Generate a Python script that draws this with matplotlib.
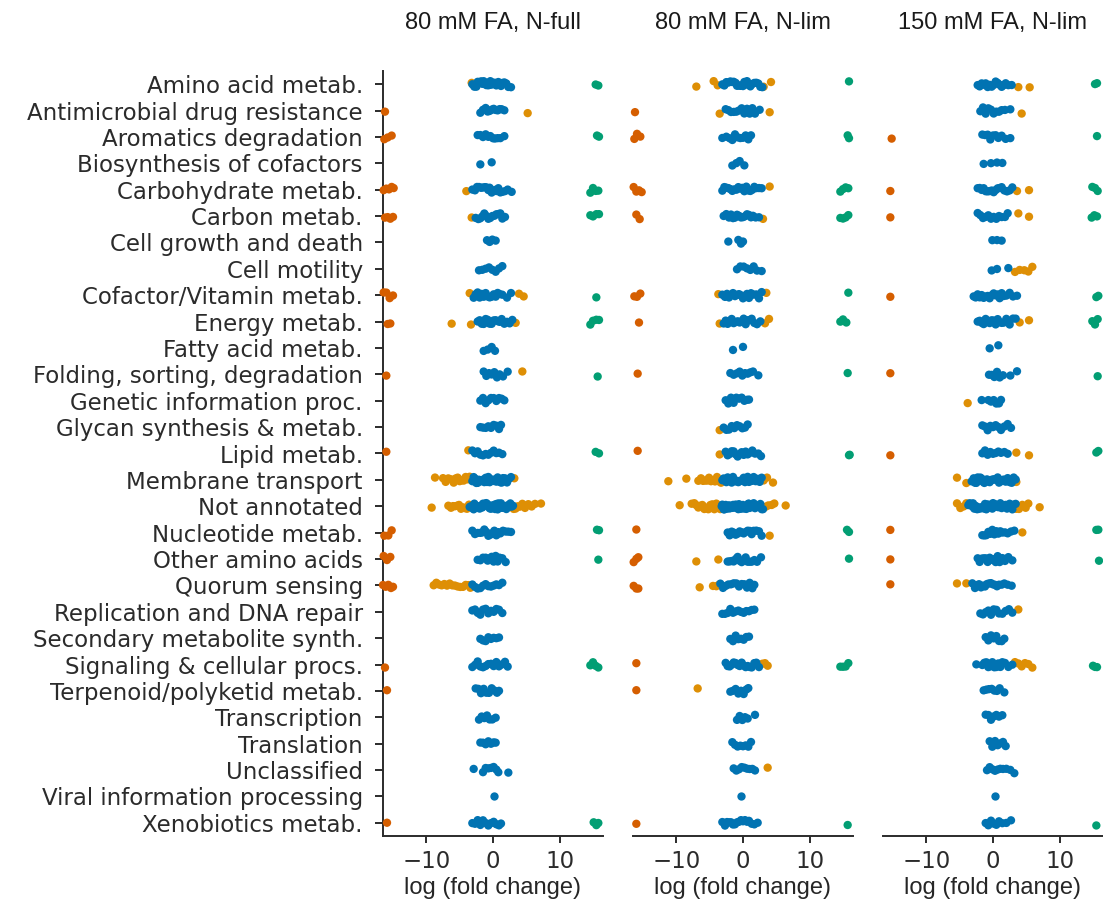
import numpy as np
import pandas as pd
import seaborn as sns
import matplotlib.pyplot as plt

PATHWAYS = [
    'Amino acid metab.', 'Antimicrobial drug resistance', 'Aromatics degradation',
    'Biosynthesis of cofactors', 'Carbohydrate metab.', 'Carbon metab.',
    'Cell growth and death', 'Cell motility', 'Cofactor/Vitamin metab.',
    'Energy metab.', 'Fatty acid metab.', 'Folding, sorting, degradation',
    'Genetic information proc.', 'Glycan synthesis & metab.', 'Lipid metab.',
    'Membrane transport', 'Not annotated', 'Nucleotide metab.',
    'Other amino acids', 'Quorum sensing', 'Replication and DNA repair',
    'Secondary metabolite synth.', 'Signaling & cellular procs.',
    'Terpenoid/polyketid metab.', 'Transcription', 'Translation',
    'Unclassified', 'Viral information processing', 'Xenobiotics metab.',
]
CONDITIONS = ['80 mM FA, N-full', '80 mM FA, N-lim', '150 mM FA, N-lim']

# --- 80 mM FA, N-full -------------------------------------------------------
# not significant
ns_full80 = [
    [-3.1, -2.8, -2.5, -2.3, -2.0, -1.8, -1.6, -1.4, -1.2, -1.0, -0.9, -0.7, -0.5, -0.4, -0.2, 0.0, 0.1, 0.3, 0.5, 0.6, 0.8, 1.0, 1.2, 1.4, 1.7, 2.0, 2.3, 2.7],
    [-1.9, -1.5, -1.1, -0.8, -0.5, -0.2, 0.1, 0.4, 0.7, 1.0, 1.3, 1.7],
    [-2.3, -1.9, -1.5, -1.1, -0.7, -0.4, 0.0, 0.3, 0.7, 1.1, 1.7],
    [-1.9, -0.2],
    [-3.1, -2.7, -2.4, -2.1, -1.8, -1.5, -1.2, -1.0, -0.7, -0.5, -0.2, 0.0, 0.3, 0.5, 0.8, 1.1, 1.4, 1.8, 2.2, 2.8],
    [-2.6, -2.2, -1.9, -1.6, -1.3, -1.0, -0.7, -0.4, -0.1, 0.2, 0.5, 0.8, 1.1, 1.4, 1.8],
    [-0.9, -0.5, -0.1, 0.4],
    [-2.1, -1.6, -1.1, -0.6, -0.1, 0.4, 0.9, 1.4],
    [-2.9, -2.6, -2.3, -2.0, -1.7, -1.4, -1.1, -0.8, -0.5, -0.2, 0.1, 0.4, 0.7, 1.0, 1.4, 2.1, 2.7],
    [-2.3, -2.0, -1.7, -1.4, -1.1, -0.8, -0.5, -0.2, 0.1, 0.4, 0.7, 1.0, 1.3, 1.7, 2.1, 2.5, 2.9],
    [-1.4, -0.8, -0.2, 0.3],
    [-1.4, -1.0, -0.6, -0.2, 0.2, 0.6, 1.0, 1.5, 2.2],
    [-1.9, -1.5, -1.1, -0.7, -0.3, 0.1, 0.5, 0.9, 1.3, 1.7],
    [-1.9, -1.5, -1.1, -0.7, -0.3, 0.1, 0.5, 0.9, 1.2],
    [-3.1, -2.7, -2.3, -1.9, -1.5, -1.1, -0.7, -0.3, 0.1, 0.5, 0.9, 1.4],
    [-3.1, -2.9, -2.7, -2.5, -2.3, -2.1, -1.9, -1.7, -1.5, -1.3, -1.1, -0.9, -0.7, -0.5, -0.3, -0.1, 0.1, 0.3, 0.5, 0.7, 0.9, 1.1, 1.3, 1.5, 1.8, 2.1, 2.4, 2.7],
    [-3.5, -3.3, -3.2, -3.0, -2.9, -2.8, -2.6, -2.5, -2.4, -2.2, -2.1, -2.0, -1.9, -1.7, -1.6, -1.5, -1.4, -1.2, -1.1, -1.0, -0.9, -0.8, -0.7, -0.6, -0.5, -0.4, -0.3, -0.2, -0.1, 0.0, 0.1, 0.2, 0.3, 0.4, 0.5, 0.6, 0.7, 0.8, 1.0, 1.1, 1.2, 1.4, 1.5, 1.7, 1.8, 2.0, 2.2, 2.4, 2.6, 2.8, 3.0],
    [-3.1, -2.7, -2.3, -1.9, -1.6, -1.3, -1.0, -0.7, -0.4, -0.1, 0.2, 0.5, 0.8, 1.1, 1.5, 1.9, 2.3, 2.7],
    [-2.3, -1.9, -1.5, -1.1, -0.8, -0.5, -0.2, 0.1, 0.4, 0.7, 1.0, 1.4, 1.9],
    [-3.1, -2.7, -2.3, -1.9, -1.5, -1.1, -0.7, -0.3, 0.1, 0.5, 0.9, 1.4],
    [-3.1, -2.7, -2.3, -1.9, -1.5, -1.1, -0.7, -0.3, 0.1, 0.5, 0.9, 1.4],
    [-1.9, -1.5, -1.1, -0.7, -0.3, 0.1, 0.5, 0.9],
    [-3.1, -2.7, -2.3, -1.9, -1.5, -1.1, -0.7, -0.3, 0.1, 0.5, 0.9, 1.3, 1.8, 2.2],
    [-2.6, -2.2, -1.8, -1.4, -1.0, -0.6, -0.2, 0.2, 0.6, 0.9],
    [-2.1, -1.7, -1.3, -0.9, -0.5, -0.1, 0.4],
    [-1.9, -1.5, -1.1, -0.7, -0.3, 0.1, 0.4],
    [-2.9, -1.5, -1.1, -0.7, -0.3, 0.1, 0.5, 0.8, 2.3],
    [0.2],
    [-3.1, -2.7, -2.3, -1.9, -1.5, -1.1, -0.7, -0.3, 0.1, 0.5, 0.9, 1.2],
]
# significant
sig_full80 = [
    [-3.2], [5.2], [], [], [-4.0], [-3.2], [], [], [-3.5, 3.9, 4.6], [-6.2, -3.3, 3.4],
    [], [4.4], [], [], [-3.7],
    [-8.7, -7.5, -7.1, -6.7, -6.3, -5.9, -5.6, -5.3, -5.0, -4.7, -4.4, -4.1, -3.8, -3.5, 3.2],
    [-9.2, -6.7, -6.3, -6.0, -5.7, -5.4, -5.1, -4.8, -4.5, -4.2, -3.9, -3.6, 3.1, 3.4, 3.7, 4.0, 4.4, 4.8, 5.3, 5.8, 6.3, 7.2],
    [], [],
    [-8.9, -8.5, -8.1, -7.7, -7.3, -6.9, -6.5, -6.1, -5.7, -5.3, -4.9, -4.5, -4.1, -3.7, -3.4],
    [], [], [], [], [], [], [], [], [],
]
# only detected in the reference condition
lost_full80 = [
    [], [-16.2], [-16.3, -15.8, -15.2], [], [-16.4, -16.0, -15.6, -15.2, -14.9],
    [-16.2, -15.8, -15.4, -15.0], [], [], [-16.4, -16.0, -15.5, -15.0], [-15.8, -15.4],
    [], [-16.0], [], [], [-16.0], [], [], [-16.3, -15.7, -15.2], [-16.4, -15.9, -15.4],
    [-16.5, -16.1, -15.7, -15.3, -15.0], [], [], [-16.2], [-15.9], [], [], [], [], [-15.9],
]
# only detected under formic acid
gained_full80 = [
    [15.4, 15.8], [], [15.6, 15.9], [], [14.6, 15.0, 15.4, 15.8], [14.6, 15.0, 15.5, 15.9],
    [], [], [15.5], [14.6, 15.0, 15.5, 15.9], [], [15.7], [], [], [15.4, 15.9], [], [],
    [15.6, 15.9], [15.8], [], [], [], [14.6, 15.0, 15.4, 15.8], [], [], [], [], [],
    [15.1, 15.5, 15.8],
]

# --- 80 mM FA, N-lim --------------------------------------------------------
ns_lim80 = [
    [-3.1, -2.8, -2.5, -2.2, -1.9, -1.6, -1.4, -1.1, -0.9, -0.7, -0.4, -0.2, 0.0, 0.2, 0.4, 0.6, 0.9, 1.1, 1.4, 1.7, 2.0, 2.3, 2.6, 2.9],
    [-2.6, -2.2, -1.8, -1.4, -1.0, -0.6, -0.2, 0.2, 0.6, 1.0, 1.4, 1.8, 2.5],
    [-3.1, -2.5, -2.0, -1.6, -1.2, -0.8, -0.4, 0.0, 0.4, 0.8, 1.2],
    [-1.6, -1.0, -0.5, 0.2],
    [-3.1, -2.8, -2.5, -2.2, -1.9, -1.6, -1.3, -1.0, -0.7, -0.4, -0.1, 0.2, 0.5, 0.8, 1.1, 1.4, 1.7, 2.0, 2.4, 2.8],
    [-2.9, -2.5, -2.1, -1.8, -1.5, -1.2, -0.9, -0.6, -0.3, 0.0, 0.3, 0.6, 0.9, 1.2, 1.5, 1.9, 2.4],
    [-2.2, -0.7, -0.3, 0.0],
    [-0.9, -0.4, 0.1, 0.6, 1.1, 1.6, 2.1, 2.8],
    [-3.1, -2.7, -2.4, -2.1, -1.8, -1.5, -1.2, -0.9, -0.6, -0.3, 0.0, 0.3, 0.6, 0.9, 1.2, 1.6, 2.0, 2.4, 2.8],
    [-2.9, -2.6, -2.3, -2.0, -1.7, -1.4, -1.1, -0.8, -0.5, -0.2, 0.1, 0.4, 0.7, 1.0, 1.3, 1.7, 2.1, 2.6],
    [-1.5, 0.0],
    [-1.9, -1.4, -0.9, -0.5, -0.1, 0.3, 0.7, 1.1, 1.5, 2.3],
    [-2.6, -2.2, -1.8, -1.4, -1.0, -0.6, -0.2, 0.2, 0.6, 0.9],
    [-2.9, -2.5, -2.1, -1.7, -1.3, -0.9, -0.5, -0.1, 0.3, 0.7],
    [-2.6, -2.3, -2.0, -1.7, -1.4, -1.1, -0.8, -0.5, -0.2, 0.1, 0.4, 0.7, 1.0, 1.4, 1.8, 2.3, 2.7],
    [-3.1, -2.9, -2.7, -2.5, -2.3, -2.1, -1.9, -1.7, -1.5, -1.3, -1.1, -0.9, -0.7, -0.5, -0.3, -0.1, 0.1, 0.3, 0.5, 0.7, 0.9, 1.1, 1.3, 1.6, 1.9, 2.2, 2.5, 2.8],
    [-3.2, -3.1, -2.9, -2.8, -2.6, -2.5, -2.4, -2.2, -2.1, -2.0, -1.9, -1.7, -1.6, -1.5, -1.4, -1.2, -1.1, -1.0, -0.9, -0.8, -0.7, -0.6, -0.5, -0.4, -0.3, -0.2, -0.1, 0.0, 0.1, 0.2, 0.3, 0.4, 0.5, 0.6, 0.8, 0.9, 1.0, 1.2, 1.3, 1.5, 1.6, 1.8, 2.0, 2.2, 2.4, 2.6, 2.8, 3.0],
    [-2.3, -2.0, -1.7, -1.4, -1.1, -0.8, -0.5, -0.2, 0.1, 0.4, 0.7, 1.0, 1.3, 1.6, 2.0, 2.4, 2.8],
    [-2.3, -2.0, -1.7, -1.4, -1.1, -0.8, -0.5, -0.2, 0.1, 0.4, 0.7, 1.0, 1.3, 1.7, 2.1, 2.7],
    [-3.4, -3.0, -2.6, -2.2, -1.8, -1.4, -1.0, -0.6, -0.2, 0.2, 0.6, 1.0, 1.4, 1.7],
    [-3.1, -2.7, -2.3, -1.9, -1.5, -1.1, -0.7, -0.3, 0.1, 0.5, 0.9, 1.3, 1.7],
    [-1.9, -1.5, -1.1, -0.7, -0.3, 0.1, 0.5, 0.9],
    [-2.6, -2.3, -2.0, -1.7, -1.4, -1.1, -0.8, -0.5, -0.2, 0.1, 0.4, 0.7, 1.0, 1.3, 1.7, 2.0, 2.4],
    [-1.9, -1.5, -1.1, -0.7, -0.3, 0.1, 0.5, 0.8],
    [-0.9, -0.5, -0.1, 0.3, 0.7, 1.8],
    [-1.6, -1.2, -0.8, -0.4, 0.0, 0.4, 0.8, 1.2],
    [-1.4, -1.0, -0.6, -0.2, 0.2, 0.6, 1.0, 1.4, 1.8],
    [-0.3],
    [-3.1, -2.7, -2.4, -2.1, -1.8, -1.5, -1.2, -0.9, -0.6, -0.3, 0.0, 0.3, 0.6, 0.9, 1.3, 1.7, 2.2],
]
sig_lim80 = [
    [-7.0, -4.4, -3.8, 3.1, 4.2], [-3.5, 4.0], [], [], [4.0], [3.0], [], [], [-3.7, 3.5],
    [-3.5, 3.3, 3.9], [], [], [], [-3.5], [-3.5],
    [-11.2, -8.5, -6.7, -6.3, -6.0, -5.7, -5.4, -5.1, -4.8, -4.5, -4.2, -3.9, -3.6, -3.3, 3.1, 3.6, 4.5],
    [-9.5, -7.7, -7.3, -7.0, -6.7, -6.4, -6.1, -5.8, -5.5, -5.2, -4.9, -4.6, -4.3, -4.0, -3.7, -3.4, 3.1, 3.4, 3.8, 4.3, 4.7, 6.4],
    [4.0], [-7.0, -3.7], [-6.5, -4.5, -4.0, -3.6], [], [], [2.9, 3.3, 3.7], [-6.8],
    [], [], [3.7], [], [],
]
lost_lim80 = [
    [], [-16.2], [-16.3, -15.9, -15.4], [], [-16.4, -16.0, -15.6, -15.2], [-16.0, -15.5],
    [], [], [-16.3, -15.9, -15.4], [-15.6], [], [-15.8], [], [], [-15.8], [], [],
    [-16.0], [-16.4, -16.0, -15.7], [-16.4, -16.0, -15.7], [], [], [-16.0], [-16.0],
    [], [], [], [], [-16.0],
]
gained_lim80 = [
    [15.9], [], [15.7, 15.9], [], [14.6, 15.0, 15.4, 15.8], [14.6, 15.0, 15.4, 15.8],
    [], [], [15.8], [14.6, 15.0, 15.5], [], [15.7], [], [], [15.9, 16.0], [], [],
    [15.6, 15.9], [15.9], [], [], [], [14.6, 15.0, 15.4, 15.8], [], [], [], [], [],
    [15.7],
]

# --- 150 mM FA, N-lim -------------------------------------------------------
ns_lim150 = [
    [-2.3, -2.0, -1.7, -1.4, -1.1, -0.8, -0.5, -0.2, 0.1, 0.4, 0.7, 1.0, 1.3, 1.6, 1.9, 2.3, 2.8],
    [-1.9, -1.5, -1.1, -0.7, -0.3, 0.1, 0.5, 0.9, 1.3, 1.8, 2.6],
    [-1.6, -1.2, -0.8, -0.4, 0.0, 0.4, 0.8, 1.3, 1.9, 2.6],
    [-1.4, -0.3, 0.6, 1.4],
    [-2.3, -2.0, -1.7, -1.4, -1.1, -0.8, -0.5, -0.2, 0.1, 0.4, 0.7, 1.0, 1.3, 1.7, 2.1, 2.5, 2.9],
    [-2.3, -1.9, -1.5, -1.1, -0.7, -0.3, 0.1, 0.5, 0.9, 1.3, 1.8, 2.2],
    [-0.1, 0.6, 1.3],
    [-0.2, 0.6, 2.3],
    [-2.9, -2.6, -2.3, -2.0, -1.7, -1.4, -1.1, -0.8, -0.5, -0.2, 0.1, 0.4, 0.7, 1.0, 1.3, 1.6, 2.0, 2.5, 3.0, 3.6],
    [-2.3, -2.0, -1.7, -1.4, -1.1, -0.8, -0.5, -0.2, 0.1, 0.4, 0.7, 1.0, 1.3, 1.6, 2.0, 2.5, 3.0, 3.4],
    [-0.5, 0.8],
    [-0.6, -0.2, 0.2, 0.6, 1.0, 1.5, 2.6, 3.6],
    [-1.7, -0.7, -0.3, 0.1, 0.5, 0.9, 1.2],
    [-1.6, -1.2, -0.8, -0.4, 0.0, 0.4, 0.8, 1.2, 1.7, 2.2, 2.7],
    [-1.6, -1.2, -0.8, -0.4, 0.0, 0.4, 0.8, 1.2, 1.7, 2.2],
    [-3.2, -2.9, -2.7, -2.5, -2.3, -2.1, -1.9, -1.7, -1.5, -1.3, -1.1, -0.9, -0.7, -0.5, -0.3, -0.1, 0.1, 0.3, 0.5, 0.7, 0.9, 1.1, 1.3, 1.6, 1.9, 2.2, 2.5, 2.8, 3.1, 3.4],
    [-3.7, -3.5, -3.3, -3.1, -3.0, -2.8, -2.7, -2.5, -2.4, -2.2, -2.1, -1.9, -1.8, -1.6, -1.5, -1.3, -1.2, -1.0, -0.9, -0.7, -0.6, -0.4, -0.3, -0.1, 0.0, 0.2, 0.3, 0.5, 0.6, 0.8, 0.9, 1.1, 1.3, 1.5, 1.7, 1.9, 2.1, 2.3, 2.5, 2.7, 2.9, 3.1, 3.4],
    [-1.6, -1.3, -1.0, -0.7, -0.4, -0.1, 0.2, 0.5, 0.8, 1.1, 1.4, 1.8, 2.2, 2.7, 3.2],
    [-2.3, -2.0, -1.7, -1.4, -1.1, -0.8, -0.5, -0.2, 0.1, 0.4, 0.7, 1.0, 1.4, 1.8, 2.3, 2.9],
    [-3.1, -2.7, -2.4, -2.1, -1.8, -1.5, -1.2, -0.9, -0.6, -0.3, 0.0, 0.3, 0.6, 0.9, 1.3, 1.7, 2.2, 2.8],
    [-1.9, -1.5, -1.1, -0.7, -0.3, 0.1, 0.5, 0.9, 1.4, 1.9, 2.4, 2.9],
    [-1.1, -0.7, -0.3, 0.1, 0.5, 0.9, 1.3, 1.7],
    [-2.5, -1.6, -1.3, -1.0, -0.7, -0.4, -0.1, 0.2, 0.5, 0.8, 1.1, 1.4, 1.8, 2.3, 2.9],
    [-1.4, -1.0, -0.6, -0.2, 0.2, 0.6, 1.0, 1.7],
    [-1.1, -0.7, -0.3, 0.1, 0.5, 0.9, 1.4],
    [-0.5, -0.1, 0.3, 0.7, 1.1, 1.5, 1.9],
    [-0.9, -0.5, -0.1, 0.3, 0.7, 1.1, 1.5, 2.0, 2.6, 3.2],
    [0.3],
    [-1.1, -0.7, -0.3, 0.1, 0.5, 0.9, 1.4, 2.0, 2.7],
]
sig_lim150 = [
    [3.8, 5.5], [4.3], [], [], [3.6, 5.4], [3.8, 5.4], [], [3.3, 4.0, 4.7, 5.3, 5.9],
    [], [4.0, 5.4], [], [], [-3.8], [], [3.5, 5.4], [-5.4, -4.0, 3.5],
    [-5.4, -4.9, -4.4, -4.0, 3.5, 3.9, 4.4, 4.9, 5.3, 7.0],
    [4.4], [], [-5.4, -4.0], [3.8], [], [3.3, 3.8, 4.3, 4.8, 5.3, 5.9],
    [], [], [], [], [], [],
]
lost_lim150 = [
    [], [], [-15.2], [], [-15.4], [-15.4], [], [], [-15.4], [], [], [-15.4], [], [],
    [-15.4], [], [], [-15.4], [-15.4], [-15.4], [], [], [], [], [], [], [], [], [],
]
gained_lim150 = [
    [15.3, 15.6], [], [15.6], [], [14.9, 15.3, 15.7], [14.8, 15.2, 15.6], [], [],
    [15.5, 15.8], [14.9, 15.3, 15.7], [], [15.7], [], [], [15.5, 15.8], [], [],
    [15.5, 15.8], [15.9], [], [], [], [15.0, 15.3, 15.6], [], [], [], [], [], [15.5],
]

GROUPS = ['lost', 'gained', 'sig', 'ns']
PALETTE = {'lost': '#d55e00', 'gained': '#029e73', 'sig': '#de8f05', 'ns': '#0173b2'}

panel_data = [
    (lost_full80, gained_full80, sig_full80, ns_full80),
    (lost_lim80, gained_lim80, sig_lim80, ns_lim80),
    (lost_lim150, gained_lim150, sig_lim150, ns_lim150),
]

records = []
for cond, lists in zip(CONDITIONS, panel_data):
    for grp, per_path in zip(GROUPS, lists):
        for path, vals in zip(PATHWAYS, per_path):
            for v in vals:
                records.append({'condition': cond, 'pathway': path, 'lfc': v, 'group': grp})
df = pd.DataFrame(records)

sns.set_style('ticks')
plt.rcParams['font.family'] = ['DejaVu Sans']
plt.rcParams['axes.edgecolor'] = '#2b2b2b'
plt.rcParams['xtick.color'] = '#2b2b2b'
plt.rcParams['ytick.color'] = '#2b2b2b'
plt.rcParams['text.color'] = '#1a1a1a'

np.random.seed(3)
fig = plt.figure(figsize=(11.03, 9.13), dpi=100)
W, H = 1103, 913
for i, cond in enumerate(CONDITIONS):
    ax = fig.add_axes([(383 + 250 * i) / W, 1 - 836 / H, 220 / W, 765 / H])
    sns.stripplot(data=df[df['condition'] == cond], x='lfc', y='pathway',
                  hue='group', hue_order=GROUPS, palette=PALETTE,
                  order=PATHWAYS, orient='h', jitter=0.12, size=6,
                  linewidth=0, legend=False, clip_on=False, ax=ax)
    ax.set_xlim(-16.5, 16.5)
    ax.set_ylim(len(PATHWAYS) - 0.5, -0.5)
    ax.set_xticks([-10, 0, 10])
    ax.set_ylabel('')
    ax.set_xlabel('log (fold change)', fontfamily='Liberation Sans', fontsize=17, labelpad=3)
    ax.set_title(cond, fontfamily='Liberation Sans', fontsize=17, pad=30)
    ax.tick_params(axis='x', labelsize=16.5, length=5, width=1.4, pad=5)
    ax.tick_params(axis='y', labelsize=16.5, length=5.5, width=1.4, pad=9)
    for s in ['bottom', 'left']:
        ax.spines[s].set_linewidth(1.4)
    if i == 0:
        sns.despine(ax=ax)
    else:
        sns.despine(ax=ax, left=True)
        ax.tick_params(axis='y', left=False, labelleft=False)

fig.savefig('out.png', dpi=100)
